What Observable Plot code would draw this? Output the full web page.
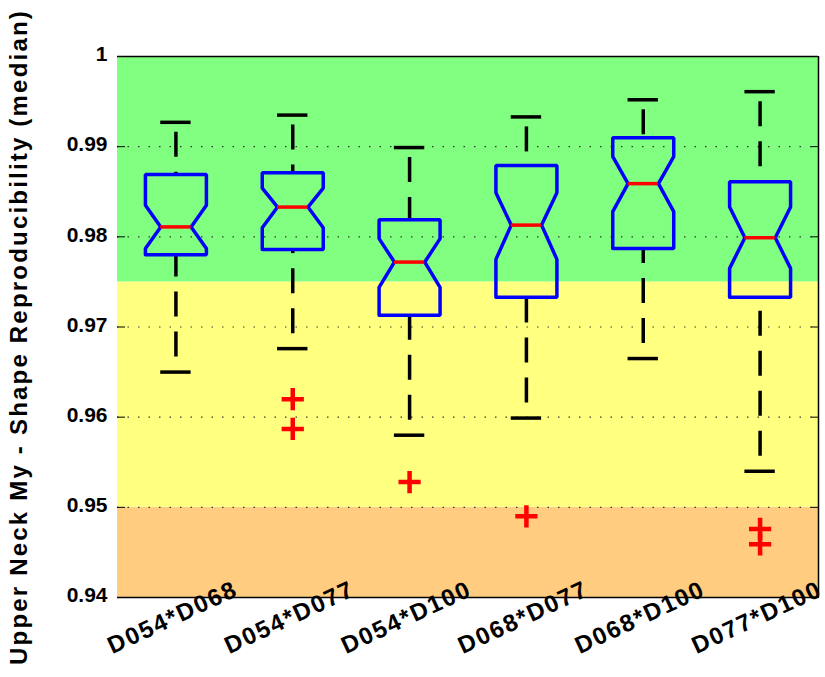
<!DOCTYPE html>
<html>
<head>
<meta charset="utf-8">
<script src="https://cdn.jsdelivr.net/npm/d3@7"></script>
<script src="https://cdn.jsdelivr.net/npm/@observablehq/plot@0.6"></script>
<style>
  html, body { margin: 0; padding: 0; background: #fff; }
</style>
</head>
<body>
<div id="chart"></div>
<script>
// ---- data ----
const categories = ["D054*D068", "D054*D077", "D054*D100", "D068*D077", "D068*D100", "D077*D100"];
const whiskerHi = [0.9927, 0.9935, 0.9899, 0.9933, 0.9952, 0.9961];
const q3        = [0.9869, 0.9871, 0.9819, 0.9879, 0.9910, 0.9861];
const notchHi   = [0.9835, 0.9854, 0.9798, 0.9849, 0.9889, 0.9833];
const median    = [0.9811, 0.9833, 0.9772, 0.9813, 0.9859, 0.9799];
const notchLo   = [0.9787, 0.9810, 0.9744, 0.9775, 0.9828, 0.9765];
const q1        = [0.9780, 0.9786, 0.9713, 0.9733, 0.9787, 0.9733];
const whiskerLo = [0.9650, 0.9676, 0.9580, 0.9599, 0.9665, 0.9540];
const outlierGroup = [1, 1, 2, 3, 5, 5];
const outlierValue = [0.9620, 0.9587, 0.9528, 0.9490, 0.9476, 0.9459];
const bandName = ["low", "mid", "high"];
const bandLo   = [0.94, 0.95, 0.975];
const bandHi   = [0.95, 0.975, 1.0];
const yTicks   = [0.94, 0.95, 0.96, 0.97, 0.98, 0.99, 1.0];
const yLabel   = "Upper Neck My - Shape Reproducibility (median)";

// ---- derived tables ----
const idx = categories.map((_, i) => i);
const W = 0.261;   // half box width (x units)
const N = 0.13;    // half notch / cap width
const boxPts = [];
idx.forEach(i => {
  const pts = [
    [i - W, q1[i]], [i - W, notchLo[i]], [i - N, median[i]], [i - W, notchHi[i]], [i - W, q3[i]],
    [i + W, q3[i]], [i + W, notchHi[i]], [i + N, median[i]], [i + W, notchLo[i]], [i + W, q1[i]],
    [i - W, q1[i]]
  ];
  pts.forEach(([x, y]) => boxPts.push({g: i, x, y}));
});
const outliers = outlierGroup.map((g, k) => ({g, v: outlierValue[k]}));
const bands = bandName.map((n, k) => ({n, lo: bandLo[k], hi: bandHi[k]}));
const fmt = d => String(+d.toFixed(2));

const FONT = "'Liberation Sans', Arial, Helvetica, sans-serif";

const chart = Plot.plot({
  width: 825,
  height: 677,
  marginLeft: 117,
  marginRight: 7,
  marginTop: 56,
  marginBottom: 80,
  style: {fontFamily: FONT, fontWeight: "bold", fontSize: "21px", color: "#000", background: "#fff"},
  x: {domain: [-0.5, 5.5], axis: null},
  y: {domain: [0.94, 1.0], axis: null},
  color: {domain: bandName, range: ["#ffcc80", "#ffff80", "#80ff80"]},
  marks: [
    Plot.rect(bands, {y1: "lo", y2: "hi", fill: "n"}),
    Plot.ruleY(yTicks, {stroke: "#1a1a1a", strokeWidth: 1.2, strokeDasharray: "1.5,9", strokeOpacity: 0.85}),
    // frame (top, bottom, right)
    Plot.ruleY([1.0], {stroke: "#000", strokeWidth: 1.5}),
    Plot.ruleY([0.94], {stroke: "#000", strokeWidth: 1.5}),
    Plot.ruleX([5.5], {stroke: "#000", strokeWidth: 1.5}),
    // inward ticks left & right
    Plot.axisY({ticks: yTicks, anchor: "left", tickSize: 8, dx: 8, tickFormat: () => "", label: null, stroke: "#000", strokeWidth: 1}),
    Plot.axisY({ticks: yTicks, anchor: "right", tickSize: 8, dx: -8, tickFormat: () => "", label: null, stroke: "#000", strokeWidth: 1}),
    // y tick labels
    Plot.text(yTicks, {y: d => d, text: fmt, frameAnchor: "left", dx: -10, dy: -2, textAnchor: "end", fontSize: 21, fontWeight: "bold", fill: "#000"}),
    // whiskers
    Plot.ruleX(idx, {x: i => i, y1: i => whiskerHi[i], y2: i => q3[i], stroke: "#000", strokeWidth: 3.5, strokeDasharray: "25,15", strokeDashoffset: 30}),
    Plot.ruleX(idx, {x: i => i, y1: i => whiskerLo[i], y2: i => q1[i], stroke: "#000", strokeWidth: 3.5, strokeDasharray: "25,15", strokeDashoffset: 25}),
    // caps
    Plot.ruleY(idx, {y: i => whiskerHi[i], x1: i => i - N, x2: i => i + N, stroke: "#000", strokeWidth: 3.5}),
    Plot.ruleY(idx, {y: i => whiskerLo[i], x1: i => i - N, x2: i => i + N, stroke: "#000", strokeWidth: 3.5}),
    // notched boxes
    Plot.line(boxPts, {x: "x", y: "y", z: "g", stroke: "#0000ff", strokeWidth: 3.5, curve: "linear", strokeLinejoin: "miter"}),
    // medians
    Plot.ruleY(idx, {y: i => median[i], x1: i => i - N, x2: i => i + N, stroke: "#ff0000", strokeWidth: 3.5}),
    // outliers
    Plot.dot(outliers, {x: "g", y: "v", symbol: "plus", r: 7.2, stroke: "#ff0000", strokeWidth: 4.5}),
    // x category labels
    Plot.text(idx, {x: i => i, text: i => categories[i], frameAnchor: "bottom", dy: 27, rotate: -25, textAnchor: "middle", fontSize: 24, fontWeight: "bold", fill: "#000", className: "xlab"}),
    // y title
    Plot.text([yLabel], {frameAnchor: "left", dx: -98, dy: 10, rotate: -90, textAnchor: "middle", fontSize: 24, fontWeight: "bold", fill: "#000", className: "ylab"})
  ]
});
chart.querySelectorAll(".xlab text").forEach(t => t.setAttribute("letter-spacing", "1.8"));
chart.querySelectorAll(".ylab text").forEach(t => t.setAttribute("letter-spacing", "2.2"));
document.getElementById("chart").appendChild(chart);
</script>
</body>
</html>
